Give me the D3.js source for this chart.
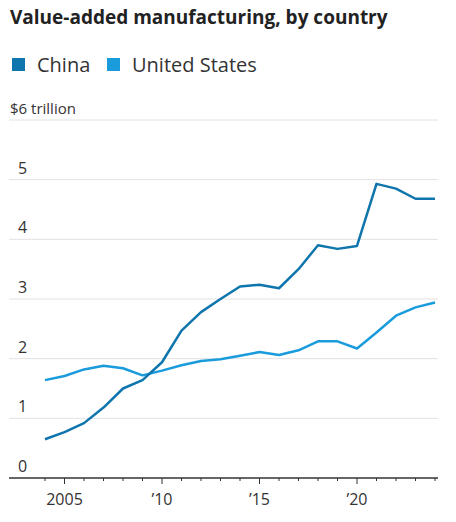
<!DOCTYPE html>
<html>
<head>
<meta charset="utf-8">
<script src="https://cdn.jsdelivr.net/npm/d3@7"></script>
<style>
  body { margin: 0; background: #fff; }
  text { font-family: "Open Sans", "Noto Sans", sans-serif; fill: #222; }
</style>
</head>
<body>
<div id="chart"></div>
<script>
// data (trillions of dollars)
var years = d3.range(2004, 2025);
var china = [0.65, 0.77, 0.92, 1.18, 1.50, 1.64, 1.94, 2.47, 2.78, 3.00, 3.21, 3.24, 3.18, 3.50, 3.90, 3.84, 3.89, 4.93, 4.85, 4.68, 4.68];
var usa   = [1.64, 1.71, 1.82, 1.88, 1.84, 1.72, 1.80, 1.89, 1.96, 1.99, 2.05, 2.11, 2.06, 2.14, 2.29, 2.29, 2.17, 2.44, 2.72, 2.86, 2.94];
var yTicks = [0, 1, 2, 3, 4, 5, 6];
var xTicks = [2005, 2010, 2015, 2020];
var xTickLabels = ["2005", "\u201910", "\u201915", "\u201920"];

var width = 456, height = 522;
var margin = {top: 120, right: 18, bottom: 44, left: 9};

var svg = d3.select("#chart").append("svg")
    .attr("width", width)
    .attr("height", height);

// plot area runs a bit wider than the data (axis/grid from 9 to 438)
var x = d3.scaleLinear().domain([2004, 2024]).range([45, 435]);
var y = d3.scaleLinear().domain([0, 6]).range([height - margin.bottom, margin.top]);

// title
svg.append("text")
    .attr("x", 10).attr("y", 24)
    .style("font-size", "19px").style("font-weight", "bold")
    .text("Value-added manufacturing, by country");

// legend
var legend = [{name: "China", color: "#0f75ad", x: 12}, {name: "United States", color: "#1a9bdc", x: 107}];
var lg = svg.append("g").selectAll("g").data(legend).enter().append("g");
lg.append("rect")
    .attr("x", function(d){ return d.x; }).attr("y", 58)
    .attr("width", 13).attr("height", 13)
    .style("fill", function(d){ return d.color; });
lg.append("text")
    .attr("x", function(d){ return d.x + 25; }).attr("y", 72)
    .style("font-size", "20px").style("fill", "#333")
    .text(function(d){ return d.name; });

// gridlines + y labels
var grid = svg.append("g");
grid.selectAll("line").data(yTicks.filter(function(d){ return d > 0; })).enter().append("line")
    .attr("x1", margin.left).attr("x2", width - margin.right)
    .attr("y1", function(d){ return y(d); }).attr("y2", function(d){ return y(d); })
    .style("stroke", "#e2e2e2").style("stroke-width", 1);
grid.selectAll("text").data(yTicks).enter().append("text")
    .attr("x", function(d){ return d == 6 ? 10 : 18; })
    .attr("y", function(d){ return y(d) - 6; })
    .style("font-size", function(d){ return d == 6 ? "15px" : "16px"; })
    .style("fill", "#333")
    .text(function(d){ return d == 6 ? "$6 trillion" : d; });

// x axis
var xAxis = svg.append("g").attr("transform", "translate(0," + y(0) + ")");
xAxis.append("line")
    .attr("x1", margin.left).attr("x2", width - margin.right)
    .style("stroke", "#333").style("stroke-width", 1.5);
xAxis.selectAll("line.tick").data(years).enter().append("line")
    .attr("class", "tick")
    .attr("x1", function(d){ return x(d); }).attr("x2", function(d){ return x(d); })
    .attr("y1", 0).attr("y2", function(d){ return xTicks.indexOf(d) >= 0 ? 6 : 3; })
    .style("stroke", "#333").style("stroke-width", 1);
xAxis.selectAll("text").data(xTicks).enter().append("text")
    .attr("x", function(d){ return x(d); }).attr("y", 27)
    .attr("text-anchor", "middle")
    .style("font-size", "16px").style("fill", "#333")
    .text(function(d, i){ return xTickLabels[i]; });

// lines
var line = d3.line()
    .x(function(d, i){ return x(years[i]); })
    .y(function(d){ return y(d); });

svg.append("path").datum(usa)
    .attr("d", line)
    .style("fill", "none").style("stroke", "#1a9bdc").style("stroke-width", 2.5)
    .style("stroke-linejoin", "round");
svg.append("path").datum(china)
    .attr("d", line)
    .style("fill", "none").style("stroke", "#0f75ad").style("stroke-width", 2.5)
    .style("stroke-linejoin", "round");
</script>
</body>
</html>
